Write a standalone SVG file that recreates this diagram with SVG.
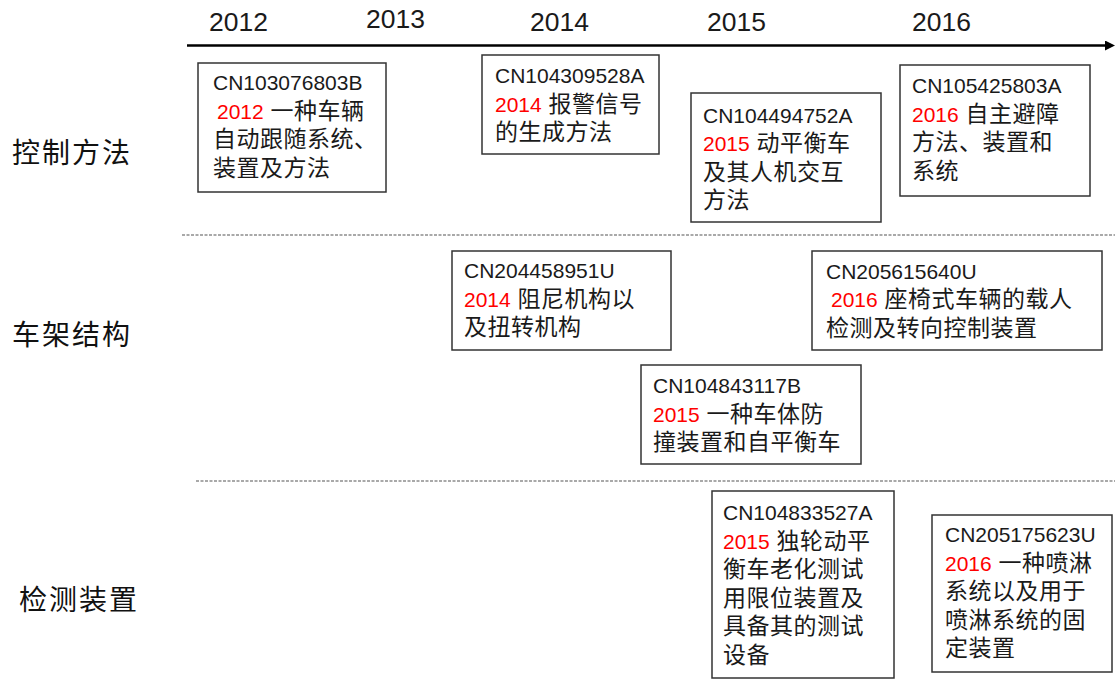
<svg xmlns="http://www.w3.org/2000/svg" width="1115" height="700" viewBox="0 0 1115 700">
  <style>
    text { font-family: "Liberation Sans", "Noto Sans CJK SC", sans-serif; fill: #1a1a1a; }
    .yr { font-size: 26.5px; }
    .t { font-size: 21px; }
    .c { font-size: 23px; letter-spacing: 0.5px; }
    .r { fill: #ff0000; }
    .lab { font-family: "Noto Sans CJK SC", sans-serif; font-size: 28px; letter-spacing: 2px; fill: #111; }
    .box { fill: #ffffff; stroke: #333333; stroke-width: 1.5; }
    .dash { stroke: #555555; stroke-width: 1.2; stroke-dasharray: 3 1.5; fill: none; }
    .axis { stroke: #000000; stroke-width: 2.5; fill: none; }
  </style>
  <defs>
    <marker id="arr" viewBox="0 0 10 10" refX="2" refY="5" markerWidth="4" markerHeight="4" orient="auto" markerUnits="strokeWidth">
      <path d="M0,0 L10,5 L0,10 Z" fill="#000000"/>
    </marker>
  </defs>
  <rect width="1115" height="700" fill="#ffffff"/>

  <g id="connectors">
    <line class="axis" x1="187" y1="45.5" x2="1107" y2="45.5" marker-end="url(#arr)"/>
    <line class="dash" x1="182" y1="235" x2="1115" y2="235"/>
    <line class="dash" x1="196" y1="481" x2="1115" y2="481"/>
  </g>

  <g id="years">
    <text class="yr" x="209" y="31">2012</text>
    <text class="yr" x="366" y="28">2013</text>
    <text class="yr" x="530" y="31">2014</text>
    <text class="yr" x="707" y="30.5">2015</text>
    <text class="yr" x="912" y="30.5">2016</text>
  </g>

  <g id="labels">
    <text class="lab" x="12" y="163">控制方法</text>
    <text class="lab" x="12" y="345">车架结构</text>
    <text class="lab" x="19" y="610">检测装置</text>
  </g>

  <g id="n1">
    <rect class="box" x="198" y="63" width="188" height="129"/>
    <text class="t" x="213" y="90">CN103076803B</text>
    <text class="t" x="217" y="118.5"><tspan class="r">2012</tspan><tspan class="c"> 一种车辆</tspan></text>
    <text class="c" x="213" y="147">自动跟随系统、</text>
    <text class="c" x="213" y="175.5">装置及方法</text>
  </g>

  <g id="n2">
    <rect class="box" x="482" y="55" width="177" height="99"/>
    <text class="t" x="495" y="83">CN104309528A</text>
    <text class="t" x="495" y="111.5"><tspan class="r">2014</tspan><tspan class="c"> 报警信号</tspan></text>
    <text class="c" x="495" y="140">的生成方法</text>
  </g>

  <g id="n3">
    <rect class="box" x="691" y="93" width="190" height="129"/>
    <text class="t" x="703" y="122.5">CN104494752A</text>
    <text class="t" x="703" y="151"><tspan class="r">2015</tspan><tspan class="c"> 动平衡车</tspan></text>
    <text class="c" x="703" y="179.5">及其人机交互</text>
    <text class="c" x="703" y="208">方法</text>
  </g>

  <g id="n4">
    <rect class="box" x="900" y="65" width="190" height="131"/>
    <text class="t" x="912" y="93">CN105425803A</text>
    <text class="t" x="912" y="121.5"><tspan class="r">2016</tspan><tspan class="c"> 自主避障</tspan></text>
    <text class="c" x="912" y="150">方法、装置和</text>
    <text class="c" x="912" y="178.5">系统</text>
  </g>

  <g id="n5">
    <rect class="box" x="452" y="251" width="219" height="99"/>
    <text class="t" x="464" y="278">CN204458951U</text>
    <text class="t" x="464" y="306.5"><tspan class="r">2014</tspan><tspan class="c"> 阻尼机构以</tspan></text>
    <text class="c" x="464" y="335">及扭转机构</text>
  </g>

  <g id="n6">
    <rect class="box" x="812" y="251" width="290" height="99"/>
    <text class="t" x="826" y="278.5">CN205615640U</text>
    <text class="t" x="831" y="307"><tspan class="r">2016</tspan><tspan class="c"> 座椅式车辆的载人</tspan></text>
    <text class="c" x="826" y="335.5">检测及转向控制装置</text>
  </g>

  <g id="n7">
    <rect class="box" x="641" y="365" width="220" height="99"/>
    <text class="t" x="653" y="393">CN104843117B</text>
    <text class="t" x="653" y="421.5"><tspan class="r">2015</tspan><tspan class="c"> 一种车体防</tspan></text>
    <text class="c" x="653" y="450">撞装置和自平衡车</text>
  </g>

  <g id="n8">
    <rect class="box" x="712" y="491" width="182" height="187"/>
    <text class="t" x="723" y="520">CN104833527A</text>
    <text class="t" x="723" y="548.5"><tspan class="r">2015</tspan><tspan class="c"> 独轮动平</tspan></text>
    <text class="c" x="723" y="577">衡车老化测试</text>
    <text class="c" x="723" y="605.5">用限位装置及</text>
    <text class="c" x="723" y="634">具备其的测试</text>
    <text class="c" x="723" y="662.5">设备</text>
  </g>

  <g id="n9">
    <rect class="box" x="932" y="515" width="180" height="157"/>
    <text class="t" x="945" y="542">CN205175623U</text>
    <text class="t" x="945" y="570.5"><tspan class="r">2016</tspan><tspan class="c"> 一种喷淋</tspan></text>
    <text class="c" x="945" y="599">系统以及用于</text>
    <text class="c" x="945" y="627.5">喷淋系统的固</text>
    <text class="c" x="945" y="656">定装置</text>
  </g>
</svg>
